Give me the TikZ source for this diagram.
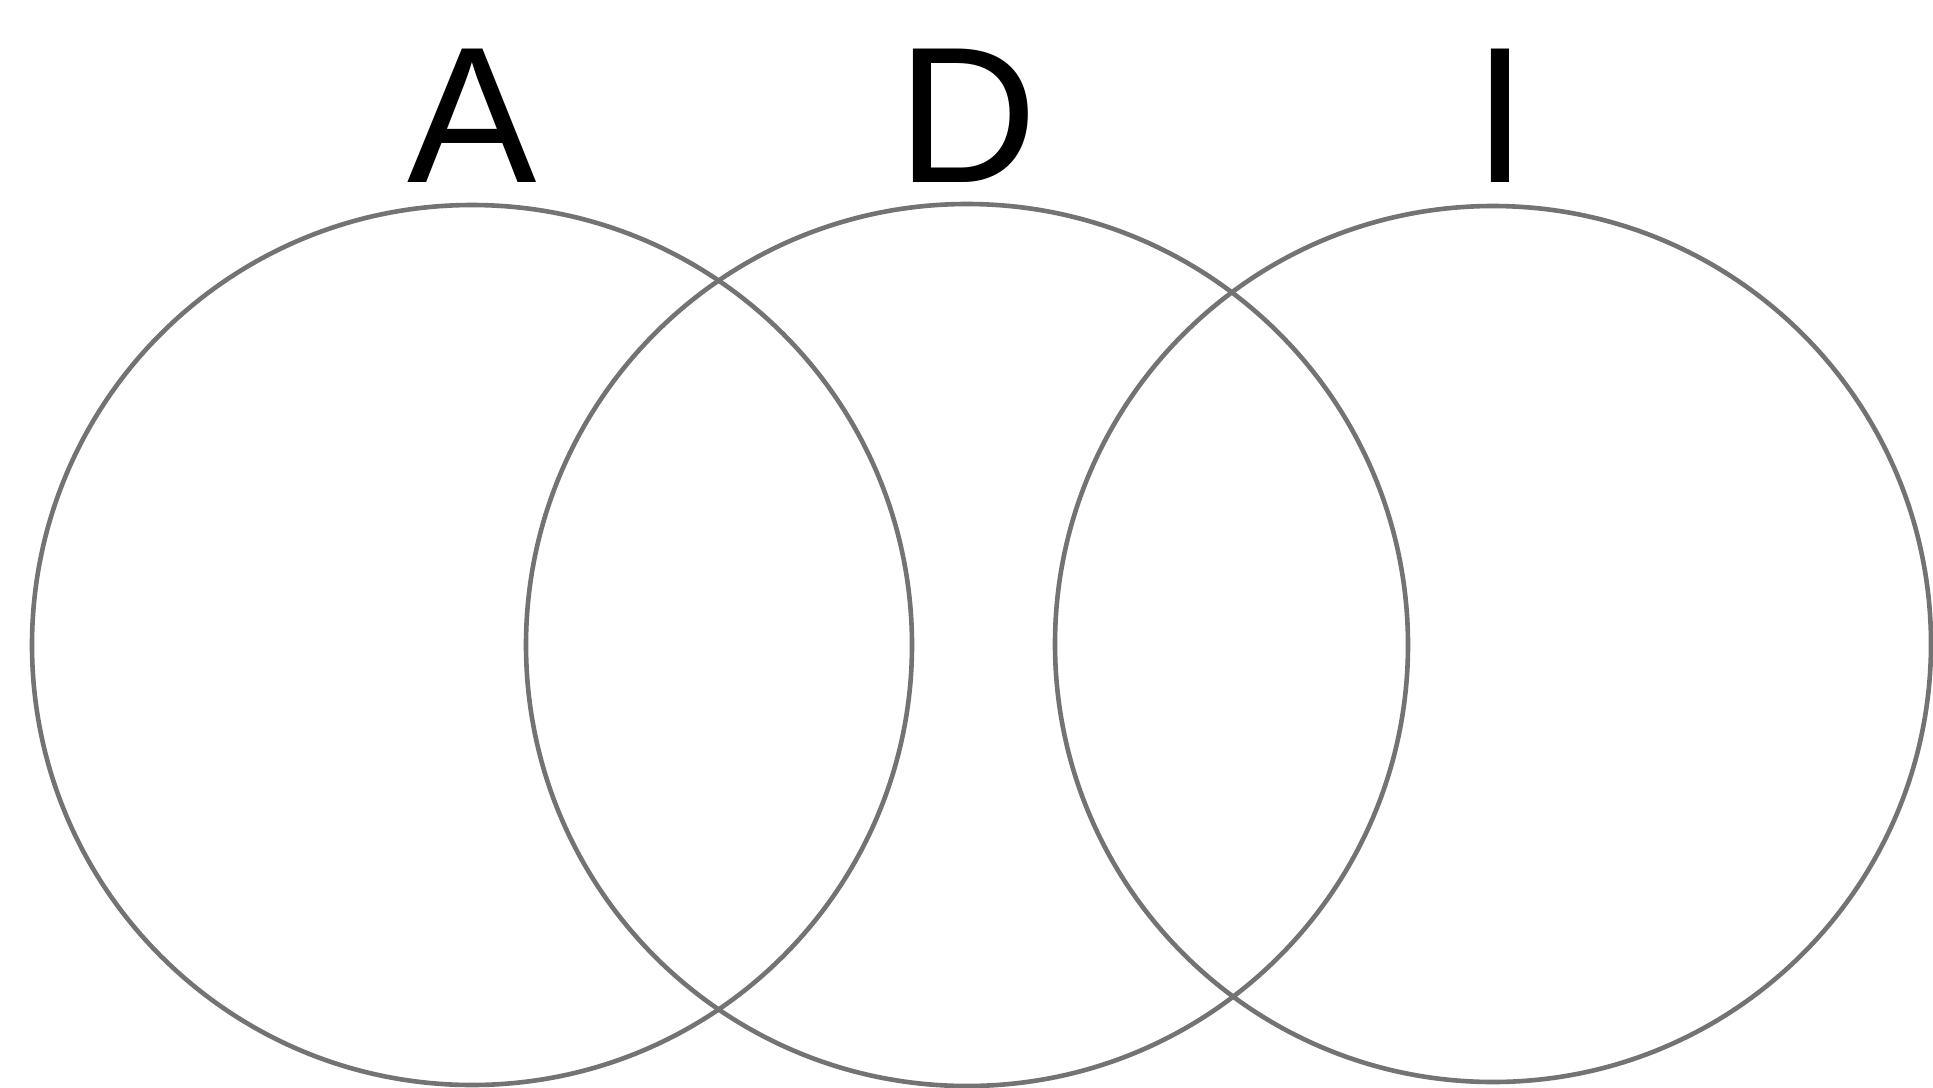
\documentclass[tikz,border=0pt]{standalone}
\usepackage{fontspec}
\setmainfont{Liberation Sans}
\begin{document}
\begin{tikzpicture}[x=0.5pt,y=-0.5pt,
  ring/.style={circle,draw=black!55,line width=2.3pt,inner sep=0pt,outer sep=0pt},
  letter/.style={anchor=base,inner sep=0pt,font=\fontsize{97pt}{110pt}\selectfont}]
\useasboundingbox[fill=white] (0,0) rectangle (1933,1087);
\node[ring,minimum size=440pt] (cA) at (472,645) {};
\node[ring,minimum size=441pt] (cD) at (967,645) {};
\node[ring,minimum size=438pt] (cI) at (1493,644) {};
\node[letter] (lA) at (472,182) {A};
\node[letter] (lD) at (968,182) {D};
\node[letter] (lI) at (1500,182) {I};
\end{tikzpicture}
\end{document}
